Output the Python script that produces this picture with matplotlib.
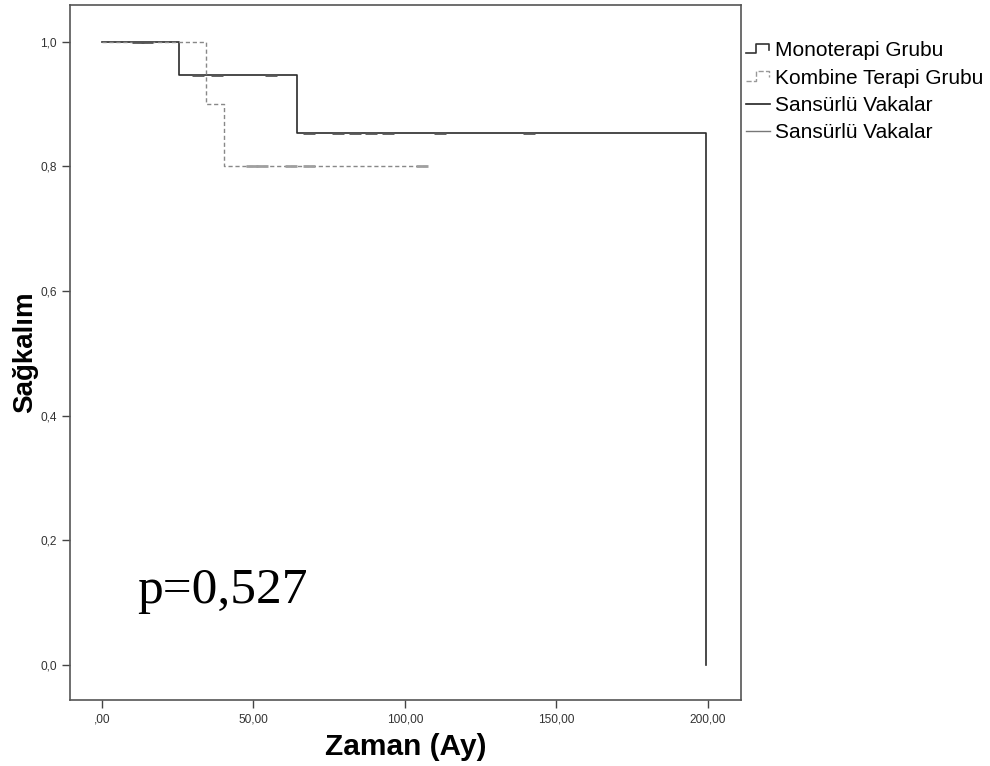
import matplotlib
matplotlib.use("Agg")
import matplotlib.pyplot as plt
from matplotlib.legend_handler import HandlerBase
from matplotlib.lines import Line2D
from matplotlib.ticker import FuncFormatter

# Kaplan-Meier adimlari (zaman, sagkalim)
mono_time = [0, 25.4, 64.4, 199.3, 199.3]
mono_surv = [1.0, 0.947, 0.853, 0.853, 0.0]
komb_time = [0, 34.3, 40.3, 107.3]
komb_surv = [1.0, 0.90, 0.80, 0.80]

# sansurlu vakalar
mono_cens_t = [12, 15, 31.7, 38, 56, 68.3, 78, 83.5, 89, 94.4, 111.5, 141]
mono_cens_s = [1.0, 1.0, 0.947, 0.947, 0.947, 0.853, 0.853, 0.853, 0.853, 0.853, 0.853, 0.853]
komb_cens_t = [49.5, 53, 62.4, 68.3, 105.6]
komb_cens_s = [0.80, 0.80, 0.80, 0.80, 0.80]

x_ticks = [0, 50, 100, 150, 200]
y_ticks = [0.0, 0.2, 0.4, 0.6, 0.8, 1.0]


class StepHandler(HandlerBase):
    def create_artists(self, legend, orig, xd, yd, width, height, fontsize, trans):
        xs = [xd, xd + width * 0.42, xd + width * 0.42, xd + width * 0.95, xd + width * 0.95]
        ys = [yd + height * 0.2, yd + height * 0.2, yd + height * 0.85, yd + height * 0.85, yd + height * 0.45]
        ln = Line2D(xs, ys, color=orig.get_color(), linestyle=orig.get_linestyle(),
                    linewidth=orig.get_linewidth(), transform=trans)
        return [ln]


fig = plt.figure(figsize=(9.9, 7.66), dpi=100)
ax = fig.add_axes([0.0707, 0.0862, 0.6778, 0.9073])

mono_line, = ax.step(mono_time, mono_surv, where="post", color="#2b2b2b", lw=1.2)
komb_line, = ax.step(komb_time, komb_surv, where="post", color="#888888", lw=1.0,
                     linestyle=(0, (3, 2)))
mono_c, = ax.plot(mono_cens_t, mono_cens_s, linestyle="none", marker="_", markersize=8,
                  markeredgewidth=2.0, color="#555555")
komb_c, = ax.plot(komb_cens_t, komb_cens_s, linestyle="none", marker="_", markersize=8,
                  markeredgewidth=2.0, color="#a0a0a0")

ax.set_xlim(-10.5, 211)
ax.set_ylim(-0.056, 1.059)
ax.set_xticks(x_ticks)
ax.set_yticks(y_ticks)
ax.xaxis.set_major_formatter(FuncFormatter(lambda v, p: (",00" if v == 0 else f"{v:.2f}".replace(".", ","))))
ax.yaxis.set_major_formatter(FuncFormatter(lambda v, p: f"{v:.1f}".replace(".", ",")))
ax.tick_params(labelsize=8.6, length=6, width=1, color="#444444", labelcolor="#333333",
               labelfontfamily="Liberation Sans")
for sp in ax.spines.values():
    sp.set_color("#555555")
    sp.set_linewidth(1.2)

ax.set_xlabel("Zaman (Ay)", fontsize=21.5, fontweight="bold", family="Liberation Sans", labelpad=6)
ax.set_ylabel("Sağkalım", fontsize=20, fontweight="bold", family="Liberation Sans")
ax.yaxis.set_label_coords(-0.048, 0.5)

ax.text(0.10, 0.14, "p=0,527", transform=ax.transAxes, fontsize=37, family="Liberation Serif")

leg_mono = Line2D([], [], color="#333333", lw=1.2)
leg_komb = Line2D([], [], color="#999999", lw=1.0, linestyle=(0, (2, 2)))
leg_c1 = Line2D([], [], color="#222222", lw=1.2)
leg_c2 = Line2D([], [], color="#777777", lw=1.0)
fig.legend([leg_mono, leg_komb, leg_c1, leg_c2],
           ["Monoterapi Grubu", "Kombine Terapi Grubu", "Sansürlü Vakalar", "Sansürlü Vakalar"],
           handler_map={leg_mono: StepHandler(), leg_komb: StepHandler()},
           loc="upper left", bbox_to_anchor=(0.7535, 0.946), frameon=False,
           prop={"family": "Liberation Sans", "size": 15}, handlelength=1.15,
           handletextpad=0.25, borderaxespad=0, labelspacing=0.4, borderpad=0)

fig.savefig("out.png", dpi=100)
